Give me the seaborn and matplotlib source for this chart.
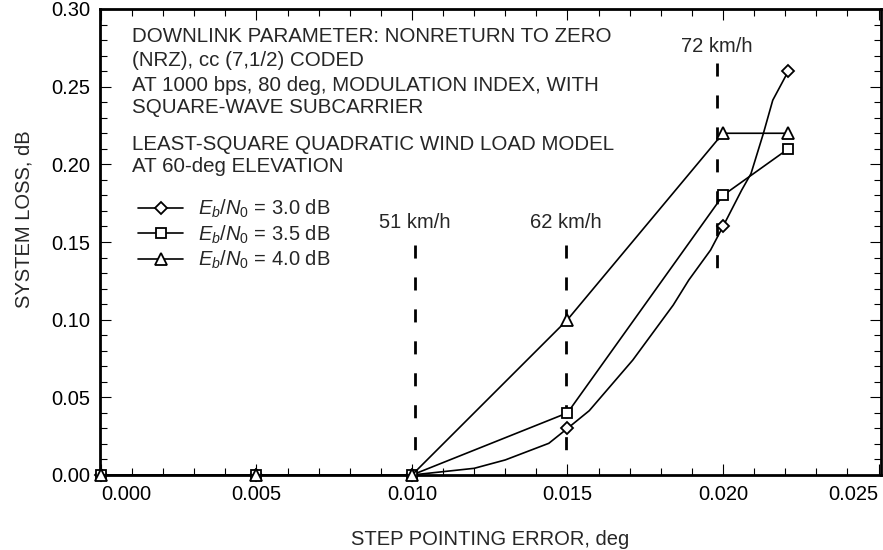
import seaborn as sns
import matplotlib.pyplot as plt
from matplotlib.ticker import FixedLocator, MultipleLocator, FormatStrFormatter

# estilo
sns.set_style("ticks")
plt.rcParams['font.family'] = ['Liberation Sans', 'DejaVu Sans']
plt.rcParams['mathtext.fontset'] = 'custom'
plt.rcParams['mathtext.rm'] = 'Liberation Sans'
plt.rcParams['mathtext.it'] = 'Liberation Sans:italic'
plt.rcParams['mathtext.bf'] = 'Liberation Sans:bold'

FS = 14.5

# dados
x_30 = [0.0, 0.005, 0.0100, 0.0120, 0.0130, 0.0144, 0.0150, 0.0157, 0.0171,
        0.0184, 0.0189, 0.0196, 0.0200, 0.0206, 0.0209, 0.0213, 0.0216, 0.0221]
y_30 = [0.0, 0.0, 0.0, 0.0043, 0.0097, 0.0204, 0.030, 0.0414, 0.074,
        0.1094, 0.1255, 0.1448, 0.160, 0.1834, 0.194, 0.220, 0.2413, 0.260]
marks_30 = [0, 1, 2, 6, 12, 17]

x_35 = [0.0, 0.005, 0.0100, 0.0150, 0.0200, 0.0221]
y_35 = [0.0, 0.0, 0.0, 0.040, 0.180, 0.210]

x_40 = [0.0, 0.005, 0.0100, 0.0150, 0.0200, 0.0221]
y_40 = [0.0, 0.0, 0.0, 0.100, 0.220, 0.220]

labels = [r'$E_b/N_0$ = 3.0 dB', r'$E_b/N_0$ = 3.5 dB', r'$E_b/N_0$ = 4.0 dB']

x_ticks = [0.000, 0.005, 0.010, 0.015, 0.020, 0.025]
y_ticks = [0.00, 0.05, 0.10, 0.15, 0.20, 0.25, 0.30]

wind_labels = ['51 km/h', '62 km/h', '72 km/h']
wind_x = [0.0101, 0.01495, 0.0198]
wind_ymin = [0.013, 0.013, 0.133]
wind_ymax = [0.148, 0.148, 0.265]
wind_text_y = [0.159, 0.159, 0.272]

note_lines = ['DOWNLINK PARAMETER: NONRETURN TO ZERO',
              '(NRZ), cc (7,1/2) CODED',
              'AT 1000 bps, 80 deg, MODULATION INDEX, WITH',
              'SQUARE-WAVE SUBCARRIER',
              'LEAST-SQUARE QUADRATIC WIND LOAD MODEL',
              'AT 60-deg ELEVATION']
note_y = [0.9297, 0.8781, 0.8243, 0.7763, 0.6974, 0.6509]

fig = plt.figure(figsize=(8.83, 5.5), dpi=100)
ax = fig.add_axes([100 / 883, 75 / 550, 781 / 883, 466 / 550])

common = dict(color='black', lw=1.2, mfc='white', mec='black', mew=1.3,
              sort=False, estimator=None, clip_on=False, ax=ax)
sns.lineplot(x=x_30, y=y_30, marker='D', markevery=marks_30, ms=6.5,
             label=labels[0], zorder=3, **common)
sns.lineplot(x=x_35, y=y_35, marker='s', ms=7, label=labels[1], zorder=4, **common)
sns.lineplot(x=x_40, y=y_40, marker='^', ms=8.5, label=labels[2], zorder=5, **common)

# linhas de vento
for lab, xv, y0, y1, yt in zip(wind_labels, wind_x, wind_ymin, wind_ymax, wind_text_y):
    ax.plot([xv, xv], [y1, y0], color='black', lw=2, ls=(0, (4.7, 6.8)), zorder=2)
    ax.text(xv, yt, lab, ha='center', va='baseline', fontsize=FS)

for txt, yy in zip(note_lines, note_y):
    ax.text(0.041, yy, txt, transform=ax.transAxes, ha='left', va='baseline', fontsize=14.8)

ax.set_xlim(-0.00003, 0.02508)
ax.set_ylim(0, 0.30)
ax.xaxis.set_major_locator(FixedLocator(x_ticks))
ax.xaxis.set_minor_locator(MultipleLocator(0.001))
ax.yaxis.set_major_locator(FixedLocator(y_ticks))
ax.yaxis.set_minor_locator(MultipleLocator(0.01))
ax.xaxis.set_major_formatter(FormatStrFormatter('%.3f'))
ax.yaxis.set_major_formatter(FormatStrFormatter('%.2f'))
ax.tick_params(which='both', direction='in', top=True, right=True, width=0.8,
               labelsize=FS, color='black', labelcolor='black')
ax.tick_params(which='major', length=8, pad=7)
ax.tick_params(which='minor', length=5)
for sp in ax.spines.values():
    sp.set_linewidth(2)
    sp.set_color('black')

ticks = ax.xaxis.get_major_ticks()
ticks[0].label1.set_horizontalalignment('left')
ticks[-1].label1.set_horizontalalignment('right')

ax.set_xlabel('STEP POINTING ERROR, deg', fontsize=FS)
ax.set_ylabel('SYSTEM LOSS, dB', fontsize=FS)
ax.xaxis.set_label_coords(0.5, -0.118)
ax.yaxis.set_label_coords(-0.085, 0.55)

handles, labs = ax.get_legend_handles_labels()
ax.legend(handles, labs, loc='upper left', bbox_to_anchor=(0.0487, 0.594),
          frameon=False, fontsize=FS, borderpad=0, borderaxespad=0,
          handlelength=2.25, handletextpad=0.75, labelspacing=0.15)

fig.savefig('out.png', dpi=100)
